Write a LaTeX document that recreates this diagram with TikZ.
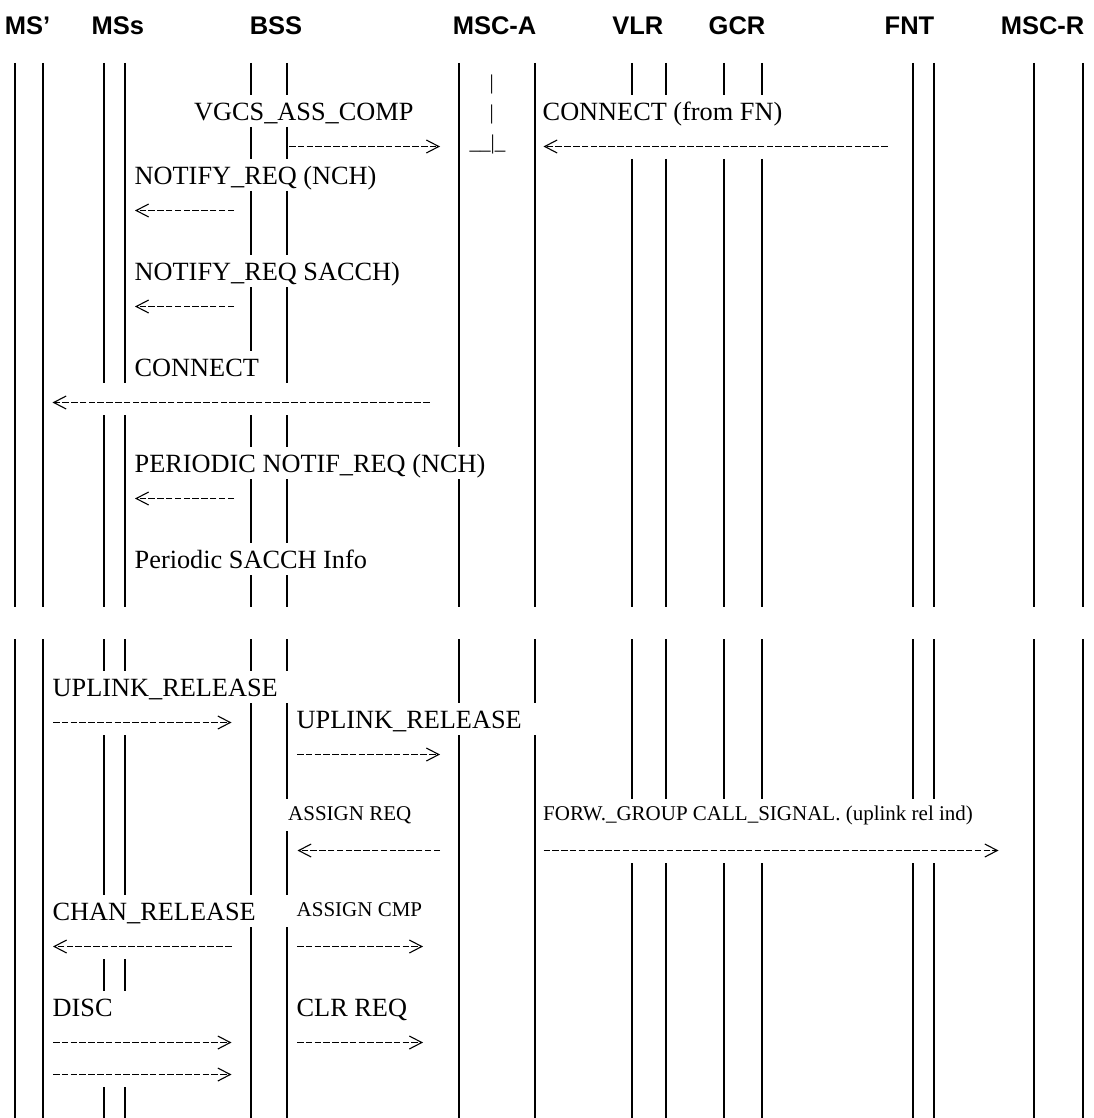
\documentclass[tikz,border=0pt]{standalone}
\usepackage{fontspec}
\setmainfont{Liberation Serif}
\setsansfont{Liberation Sans}
\usetikzlibrary{arrows.meta}

\begin{document}
\begin{tikzpicture}[x=1pt, y=-1pt, line cap=butt,
  lifeline/.style={line width=1.9pt},
  msg/.style={line width=1.1pt, dash pattern=on 6.5pt off 2.3pt,
    -{Straight Barb[length=12.5pt,width=13pt,line width=1.1pt]}},
  hdr/.style={anchor=base, inner sep=0pt, font=\sffamily\bfseries\fontsize{25.5}{30}\selectfont},
  lbl/.style={anchor=base west, inner sep=0pt, font=\fontsize{26.3}{30}\selectfont},
  lblsm/.style={anchor=base west, inner sep=0pt, font=\fontsize{21}{25}\selectfont},
  tick/.style={inner sep=0pt, font=\fontsize{21}{25}\selectfont}]

  %% ════ 表头 ════
  \node[hdr] (hMSp)  at (27.5,35)   {MS’};
  \node[hdr] (hMSs)  at (117.9,35)  {MSs};
  \node[hdr] (hBSS)  at (276,35)    {BSS};
  \node[hdr] (hMSCA) at (494.6,35)  {MSC-A};
  \node[hdr] (hVLR)  at (637.9,35)  {VLR};
  \node[hdr] (hGCR)  at (737,35)    {GCR};
  \node[hdr] (hFNT)  at (909.5,35)  {FNT};
  \node[hdr] (hMSCR) at (1042.6,35) {MSC-R};

  %% ════ 竖线（上半段，行高 32）════
  \draw[lifeline] (15,63) -- (15,607) (43,63) -- (43,607);
  \draw[lifeline] (104,63) -- (104,383) (104,415) -- (104,607);
  \draw[lifeline] (125,63) -- (125,383) (125,415) -- (125,607);
  \draw[lifeline] (251,63) -- (251,95) (251,127) -- (251,159) (251,191) -- (251,255) (251,287) -- (251,351)
                  (251,415) -- (251,447) (251,479) -- (251,543) (251,575) -- (251,607);
  \draw[lifeline] (287,63) -- (287,95) (287,127) -- (287,159) (287,191) -- (287,255) (287,287) -- (287,383)
                  (287,415) -- (287,447) (287,479) -- (287,543) (287,575) -- (287,607);
  \draw[lifeline] (459,63) -- (459,447) (459,479) -- (459,607);
  \draw[lifeline] (535,63) -- (535,607);
  \draw[lifeline] (632,63) -- (632,95) (632,159) -- (632,607);
  \draw[lifeline] (666,63) -- (666,95) (666,159) -- (666,607);
  \draw[lifeline] (724,63) -- (724,95) (724,159) -- (724,607);
  \draw[lifeline] (762,63) -- (762,95) (762,159) -- (762,607);
  \draw[lifeline] (913,63) -- (913,607) (934,63) -- (934,607);
  \draw[lifeline] (1034,63) -- (1034,607) (1083,63) -- (1083,607);

  %% ════ 竖线（下半段）════
  \draw[lifeline] (15,639) -- (15,1118) (43,639) -- (43,1118);
  \draw[lifeline] (104,639) -- (104,671) (104,735) -- (104,895) (104,959) -- (104,991) (104,1087) -- (104,1118);
  \draw[lifeline] (125,639) -- (125,671) (125,735) -- (125,895) (125,959) -- (125,991) (125,1087) -- (125,1118);
  \draw[lifeline] (251,639) -- (251,671) (251,703) -- (251,895) (251,927) -- (251,1118);
  \draw[lifeline] (287,639) -- (287,671) (287,703) -- (287,799) (287,831) -- (287,895) (287,927) -- (287,1118);
  \draw[lifeline] (459,639) -- (459,703) (459,735) -- (459,1118);
  \draw[lifeline] (535,639) -- (535,703) (535,735) -- (535,1118);
  \draw[lifeline] (632,639) -- (632,799) (632,863) -- (632,1118);
  \draw[lifeline] (666,639) -- (666,799) (666,863) -- (666,1118);
  \draw[lifeline] (724,639) -- (724,799) (724,863) -- (724,1118);
  \draw[lifeline] (762,639) -- (762,799) (762,863) -- (762,1118);
  \draw[lifeline] (913,639) -- (913,799) (913,863) -- (913,1118);
  \draw[lifeline] (934,639) -- (934,799) (934,863) -- (934,1118);
  \draw[lifeline] (1034,639) -- (1034,1118) (1083,639) -- (1083,1118);

  %% ════ MSC-A 栏里的竖杠字符 ════
  \node[tick] (barA) at (491.7,84)    {|};
  \node[tick] (barB) at (491.7,114.5) {|};
  \node[tick, anchor=base west] (barC) at (469.5,150) {\_\_|\_};

  %% ════ 标签（上半段）════
  \node[lbl] (vgcs)   at (194,120.7)   {VGCS\_ASS\_COMP};      % box(195,102,217,19)
  \node[lbl] (confn)  at (542.5,120.7) {CONNECT (from FN)};
  \node[lbl] (notnch) at (134.5,184.7) {NOTIFY\_REQ (NCH)};
  \node[lbl] (notsa)  at (134.5,280.7) {NOTIFY\_REQ SACCH)};
  \node[lbl] (conn)   at (134.5,376.7) {CONNECT};
  \node[lbl] (pernot) at (134.5,472.7) {PERIODIC NOTIF\_REQ (NCH)};
  \node[lbl] (persa)  at (134.5,568.7) {Periodic SACCH Info};

  %% ════ 标签（下半段）════
  \node[lbl]   (uplA)  at (52.5,696.7)  {UPLINK\_RELEASE};
  \node[lbl]   (uplB)  at (296.5,728.7) {UPLINK\_RELEASE};
  \node[lblsm] (asreq) at (288,820.5)   {ASSIGN REQ};
  \node[lblsm] (forw)  at (543,820.5)   {FORW.\_GROUP CALL\_SIGNAL. (uplink rel ind)};
  \node[lbl]   (chrel) at (52.5,920.7)  {CHAN\_RELEASE};
  \node[lblsm] (ascmp) at (296.5,916.5) {ASSIGN CMP};
  \node[lbl]   (disc)  at (52.5,1016.7) {DISC};
  \node[lbl]   (clr)   at (296.5,1016.7) {CLR REQ};

  %% ════ 箭头端点 ════
  \coordinate (m1s) at (289,146.5);   \coordinate (m1e) at (440,146.5);
  \coordinate (m2s) at (887.5,146.5); \coordinate (m2e) at (543.5,146.5);
  \coordinate (m3s) at (234,210.5);   \coordinate (m3e) at (135,210.5);
  \coordinate (m4s) at (234,306.5);   \coordinate (m4e) at (135,306.5);
  \coordinate (m5s) at (429.5,402.5); \coordinate (m5e) at (52.5,402.5);
  \coordinate (m6s) at (234,498.5);   \coordinate (m6e) at (135,498.5);
  \coordinate (m7s) at (53,722.5);    \coordinate (m7e) at (231.5,722.5);
  \coordinate (m8s) at (297,754.5);   \coordinate (m8e) at (440,754.5);
  \coordinate (m9s) at (440,850.5);   \coordinate (m9e) at (297.5,850.5);
  \coordinate (m10s) at (543.5,850.5); \coordinate (m10e) at (998.5,850.5);
  \coordinate (m11s) at (231.5,946.5); \coordinate (m11e) at (53,946.5);
  \coordinate (m12s) at (297,946.5);   \coordinate (m12e) at (423,946.5);
  \coordinate (m13s) at (53,1042.5);   \coordinate (m13e) at (231.5,1042.5);
  \coordinate (m14s) at (297,1042.5);  \coordinate (m14e) at (423,1042.5);
  \coordinate (m15s) at (53,1074.5);   \coordinate (m15e) at (231.5,1074.5);

  %% ════ 虚线箭头 ════
  \draw[msg] (m1s) -- (m1e);
  \draw[msg] (m2s) -- (m2e);
  \draw[msg] (m3s) -- (m3e);
  \draw[msg] (m4s) -- (m4e);
  \draw[msg] (m5s) -- (m5e);
  \draw[msg] (m6s) -- (m6e);
  \draw[msg] (m7s) -- (m7e);
  \draw[msg] (m8s) -- (m8e);
  \draw[msg] (m9s) -- (m9e);
  \draw[msg] (m10s) -- (m10e);
  \draw[msg] (m11s) -- (m11e);
  \draw[msg] (m12s) -- (m12e);
  \draw[msg] (m13s) -- (m13e);
  \draw[msg] (m14s) -- (m14e);
  \draw[msg] (m15s) -- (m15e);

  % 钉死画布
  \pgfresetboundingbox
  \path[use as bounding box] (0,0) rectangle (1093,1118);
\end{tikzpicture}
\end{document}
